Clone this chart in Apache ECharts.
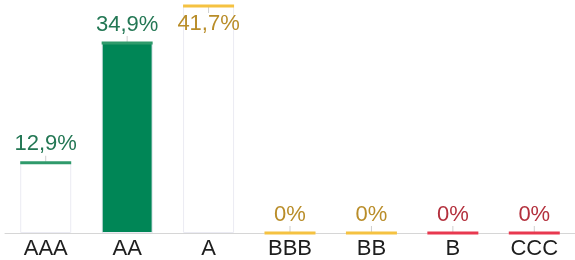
<!DOCTYPE html>
<html>
<head>
<meta charset="utf-8">
<script src="https://cdn.jsdelivr.net/npm/echarts@6/dist/echarts.min.js"></script>
<style>
  html, body { margin: 0; padding: 0; background: #fff; }
  #chart { width: 575px; height: 260px; }
</style>
</head>
<body>
<div id="chart"></div>
<script>
// rating categories and shares (%)
const categories = ['AAA', 'AA', 'A', 'BBB', 'BB', 'B', 'CCC'];
const shares = [12.9, 34.9, 41.7, 0, 0, 0, 0];

// colours per category
const fillColors = ['#ffffff', '#008656', '#ffffff', '#ffffff', '#ffffff', '#ffffff', '#ffffff'];
const lineColors = ['#2f9a6b', '#2f9a6b', '#f5c241', '#f5c241', '#f5c241', '#e8384f', '#e8384f'];
const labelColors = ['#237754', '#237754', '#b98d29', '#b98d29', '#b98d29', '#b3303d', '#b3303d'];

const FONT = 'Liberation Sans, Arial, sans-serif';

function fmt(v) {
    return String(v).replace('.', ',') + '%';
}

let chart = echarts.init(document.getElementById('chart'));

let barData = shares.map((v, i) => ({
    value: v,
    itemStyle: {color: fillColors[i], borderColor: '#ebebf3', borderWidth: 1}
}));

// top line with the value label; the tallest one gets its label underneath
let lineData = shares.map((v, i) => {
    let below = v === Math.max(...shares);
    return {
        value: v,
        itemStyle: {color: lineColors[i], opacity: 1},
        label: {
            position: below ? 'bottom' : 'top',
            distance: below ? 5 : 6,
            color: labelColors[i]
        }
    };
});

let tickData = shares.map((v) => ({
    value: v,
    symbolOffset: [0, v === Math.max(...shares) ? 4 : -4]
}));

let option = {
    animation: false,
    grid: {left: 5, width: 573, top: 6, bottom: 27},
    xAxis: {
        type: 'category',
        data: categories,
        axisLine: {lineStyle: {color: '#d6d6d6', width: 1}},
        axisTick: {show: false},
        axisLabel: {color: '#1e1e1e', fontSize: 22, fontFamily: FONT, margin: 5}
    },
    yAxis: {
        type: 'value',
        min: 0,
        max: 41.7,
        show: false
    },
    series: [
        {
            type: 'bar',
            barWidth: 51,
            data: barData,
            z: 1
        },
        {
            type: 'scatter',
            symbol: 'rect',
            symbolSize: [1, 6],
            itemStyle: {color: '#cfcfcf', opacity: 1},
            data: tickData,
            z: 2,
            silent: true
        },
        {
            type: 'scatter',
            symbol: 'rect',
            symbolSize: [51, 3],
            data: lineData,
            z: 3,
            label: {
                show: true,
                fontSize: 22,
                fontFamily: FONT,
                formatter: (p) => fmt(p.value)
            }
        }
    ]
};

chart.setOption(option);
</script>
</body>
</html>
